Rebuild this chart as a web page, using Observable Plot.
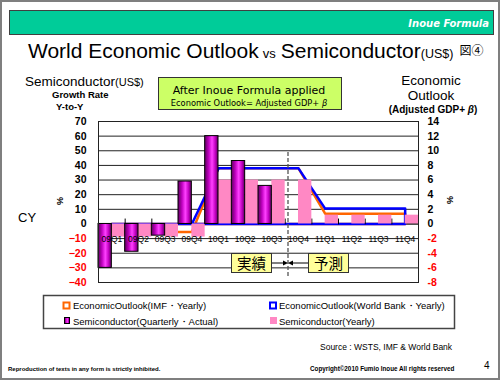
<!DOCTYPE html>
<html>
<head>
<meta charset="utf-8">
<script src="https://cdn.jsdelivr.net/npm/d3@7"></script>
<script src="https://cdn.jsdelivr.net/npm/@observablehq/plot@0.6"></script>
<style>
html,body{margin:0;padding:0;background:#fff;}
#slide{position:relative;width:500px;height:380px;overflow:hidden;background:#fff;font-family:"Liberation Sans",Arial,sans-serif;}
#chart{position:absolute;left:0;top:110px;width:500px;height:180px;}
#deco{position:absolute;left:0;top:0;pointer-events:none;font-family:"Liberation Sans",Arial,sans-serif;}
</style>
</head>
<body>
<div id="slide">
  <div id="chart"></div>
  <svg id="deco" width="500" height="380" viewBox="0 0 500 380" xmlns="http://www.w3.org/2000/svg">
    <defs>
      <linearGradient id="purpleGrad" x1="0" y1="0" x2="1" y2="0">
        <stop offset="0" stop-color="#5e005e"/>
        <stop offset="0.3" stop-color="#c000c0"/>
        <stop offset="0.55" stop-color="#ff40ff"/>
        <stop offset="0.8" stop-color="#c000c0"/>
        <stop offset="1" stop-color="#5e005e"/>
      </linearGradient>
    </defs>
    <rect x="1" y="1" width="498" height="378" fill="none" stroke="#7f7f7f" stroke-width="2"/>
    <rect x="9.5" y="10.5" width="484" height="24" fill="#00cc99" stroke="#404040"/>
    <text x="489" y="27" text-anchor="end" fill="#fff" font-family="DejaVu Sans" font-weight="bold" font-style="italic" font-size="10">Inoue Formula</text>

    <text x="28" y="58" font-size="21" fill="#000">World Economic Outlook<tspan font-size="13" dx="4">vs</tspan><tspan dx="5">Semiconductor</tspan><tspan font-size="12.5">(US$)</tspan><tspan font-family="Noto Sans CJK JP" font-size="12" dx="6" dy="-3">図④</tspan></text>

    <text x="25" y="86" font-size="13.5">Semiconductor<tspan font-size="11">(US$)</tspan></text>
    <text x="52" y="98" font-size="9.5" font-weight="bold">Growth Rate</text>
    <text x="56" y="110" font-size="9.5" font-weight="bold">Y-to-Y</text>

    <text x="431" y="85" font-size="13.5" text-anchor="middle">Economic</text>
    <text x="431" y="100" font-size="13.5" text-anchor="middle">Outlook</text>
    <text x="433" y="113" font-size="10" font-weight="bold" text-anchor="middle">(Adjusted GDP+ <tspan font-style="italic">β</tspan>)</text>

    <rect x="158.5" y="77.5" width="183" height="32" fill="#ccff66" stroke="#333"/>
    <text x="249" y="94" font-family="DejaVu Sans" font-size="11" text-anchor="middle">After Inoue Formula applied</text>
    <text x="249" y="105.5" font-family="DejaVu Sans" font-size="8.3" text-anchor="middle">Economic Outlook= Adjusted GDP+ <tspan font-style="italic">β</tspan></text>

    <text x="18" y="222" font-size="13">CY</text>
    <text transform="translate(63,201) rotate(-90)" font-size="9" font-weight="bold" text-anchor="middle">%</text>
    <text transform="translate(453,200) rotate(-90)" font-size="9" font-weight="bold" text-anchor="middle">%</text>

    <line x1="288" x2="288" y1="152" y2="278" stroke="#555" stroke-width="1.3" stroke-dasharray="4,2"/>
    <rect x="231.5" y="253.5" width="40" height="19" fill="#ffff99" stroke="#333"/>
    <text x="251.5" y="269" font-family="Noto Sans CJK JP" font-size="14.5" text-anchor="middle">実績</text>
    <rect x="308.5" y="253.5" width="40" height="19" fill="#ffff99" stroke="#333"/>
    <text x="328.5" y="269" font-family="Noto Sans CJK JP" font-size="14.5" text-anchor="middle">予測</text>
    <line x1="272" x2="284" y1="263" y2="263" stroke="#000"/>
    <path d="M283,260.5 L288,263 L283,265.5Z" fill="#000"/>
    <line x1="292" x2="308" y1="263" y2="263" stroke="#000"/>
    <path d="M293,260.5 L288,263 L293,265.5Z" fill="#000"/>

    <rect x="43.5" y="295.5" width="411" height="33" fill="#fff" stroke="#444" stroke-width="1.5"/>
    <rect x="63.5" y="302.5" width="6" height="6" fill="#fff" stroke="#ff6600" stroke-width="2"/>
    <text x="73" y="309" font-size="9.5">EconomicOutlook(IMF・Yearly)</text>
    <rect x="270" y="302.5" width="6" height="6" fill="#fff" stroke="#0000ff" stroke-width="2"/>
    <text x="279" y="309" font-size="9.5">EconomicOutlook(World Bank・Yearly)</text>
    <rect x="64.5" y="317.5" width="5" height="6" fill="url(#purpleGrad)" stroke="#000"/>
    <text x="73" y="325" font-size="9.5">Semiconductor(Quarterly・Actual)</text>
    <rect x="270" y="317" width="7" height="7" fill="#ff88c4"/>
    <text x="279" y="325" font-size="9.5">Semiconductor(Yearly)</text>

    <text x="320" y="350" font-size="8.5">Source : WSTS, IMF &amp; World Bank</text>
    <text x="8" y="371" font-size="6" font-weight="bold">Reproduction of texts in any form is strictly inhibited.</text>
    <text x="310" y="371" font-size="6.3" font-weight="bold">Copyright©2010 Fumio Inoue All rights reserved</text>
    <text x="484" y="369" font-size="10">4</text>
  </svg>
</div>
<script>
const categories = ["09Q1","09Q2","09Q3","09Q4","10Q1","10Q2","10Q3","10Q4","11Q1","11Q2","11Q3","11Q4"];
const semiQuarterly = [-30, -19, -8, 29, 60, 43, 26, null, null, null, null, null];
const semiYearly = [-9, -9, -9, -9, 30, 30, 30, 30, 6, 6, 6, 6];
const outlookIMF = [-1.1, -1.1, -1.1, -1.1, 7.6, 7.6, 7.6, 7.6, 1.4, 1.4, 1.4, 1.4];
const outlookWB = [0, 0, 0, 0, 7.6, 7.6, 7.6, 7.6, 2.1, 2.1, 2.1, 2.1];
const leftTicks = [70, 60, 50, 40, 30, 20, 10, 0, -10, -20, -30, -40];
const rightTicks = [14, 12, 10, 8, 6, 4, 2, 0, -2, -4, -6, -8];
const rightToLeft = 5; // right axis 14 aligns with left axis 70

const n = categories.length;
const quarterData = categories.map((c, i) => ({i, v: semiQuarterly[i]})).filter(d => d.v != null);
const yearlyData = categories.map((c, i) => ({i, v: semiYearly[i]}));
const catData = categories.map((c, i) => ({i, cat: c}));
const boundaries = d3.range(1, n);

function outline(values) {
  const top = values.map((v, i) => ({x: i + 0.5, y: v * rightToLeft}));
  return [...top, {x: n - 0.5, y: 0}, {x: 0.5, y: 0}, top[0]];
}

const axisOpts = {tickSize: 0, fontSize: 10.5, fontWeight: "bold", label: null};

const chart = Plot.plot({
  width: 500,
  height: 180,
  marginTop: 11,
  marginBottom: 8,
  marginLeft: 98,
  marginRight: 82,
  x: {domain: [0, n], axis: null},
  y: {domain: [-40, 70]},
  style: {fontFamily: "Liberation Sans, Arial, sans-serif", background: "transparent", overflow: "visible"},
  marks: [
    Plot.ruleY(leftTicks, {stroke: "#222", strokeWidth: 1}),
    Plot.ruleY([0], {stroke: "#000", strokeWidth: 1}),
    Plot.line(outline(outlookIMF), {x: "x", y: "y", stroke: "#ff6600", strokeWidth: 2.5}),
    Plot.line(outline(outlookWB), {x: "x", y: "y", stroke: "#0000ff", strokeWidth: 2.5}),
    Plot.vector(boundaries, {x: d => d, y: () => 0, length: 5, rotate: 0, anchor: "start", stroke: "#000", strokeWidth: 1,
      shape: {draw(context, l) { context.moveTo(0, 0); context.lineTo(0, -l); }}}),
    Plot.rect(yearlyData, {x1: d => d.i + 0.5, x2: d => d.i + 1, y1: () => 0, y2: d => d.v, fill: "#ff88c4"}),
    Plot.rect(quarterData, {x1: d => d.i, x2: d => d.i + 0.5, y1: () => 0, y2: d => d.v, fill: "url(#purpleGrad)", stroke: "#000", strokeWidth: 1}),
    Plot.text(catData, {x: d => d.i + 0.5, y: () => 0, dy: 15, text: d => d.cat, fontSize: 8.5, fill: "#000"}),
    Plot.axisY(leftTicks.filter(t => t >= 0), {...axisOpts, anchor: "left", tickPadding: 12}),
    Plot.axisY(leftTicks.filter(t => t < 0), {...axisOpts, anchor: "left", tickPadding: 12, color: "#ff0000"}),
    Plot.axisY(rightTicks.filter(t => t >= 0).map(t => t * rightToLeft), {...axisOpts, anchor: "right", tickPadding: 9, tickFormat: d => String(d / rightToLeft)}),
    Plot.axisY(rightTicks.filter(t => t < 0).map(t => t * rightToLeft), {...axisOpts, anchor: "right", tickPadding: 9, color: "#ff0000", tickFormat: d => String(d / rightToLeft)}),
    Plot.frame({stroke: "#222"})
  ]
});
document.getElementById("chart").appendChild(chart);
</script>
</body>
</html>
